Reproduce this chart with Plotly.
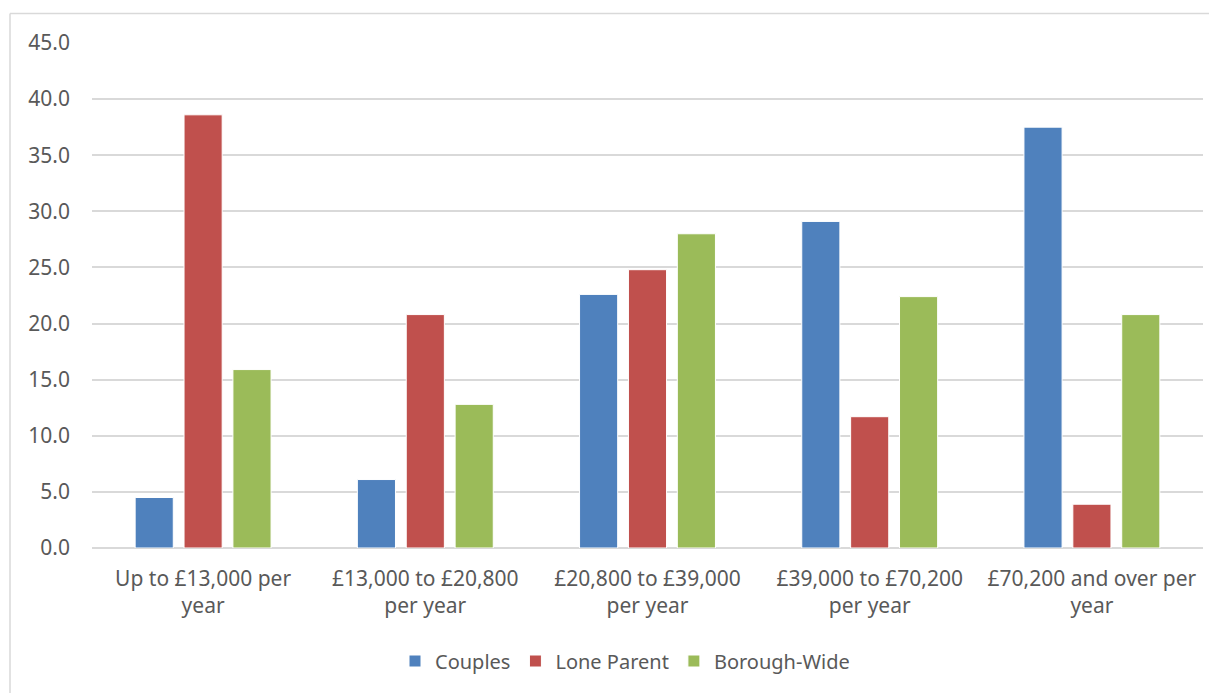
import plotly.graph_objects as go

categories = [
    "Up to £13,000 per<br>year",
    "£13,000 to £20,800<br>per year",
    "£20,800 to £39,000<br>per year",
    "£39,000 to £70,200<br>per year",
    "£70,200 and over per<br>year",
]
couples = [4.5, 6.1, 22.6, 29.1, 37.5]
lone_parent = [38.6, 20.8, 24.8, 11.7, 3.9]
borough_wide = [15.9, 12.8, 28.0, 22.4, 20.8]
y_ticks = [0, 5, 10, 15, 20, 25, 30, 35, 40, 45]

series = [
    ("Couples", couples, "#4F81BD"),
    ("Lone Parent", lone_parent, "#C0504D"),
    ("Borough-Wide", borough_wide, "#9BBB59"),
]

OFF = 8  # page body margin
W, H = 1217 - OFF, 693 - OFF
L, T = 92 - OFF, 43 - OFF
PR, PB = 1203 - OFF, 548 - OFF
R, B = W - PR, H - PB
pw, ph = PR - L, PB - T

fig = go.Figure()
for name, vals, col in series:
    fig.add_trace(go.Bar(
        x=categories, y=vals, name=name,
        marker=dict(color=col, line=dict(color="white", width=1)),
    ))

font = dict(family="Noto Sans", size=20, color="#595959")

fig.update_layout(
    width=W, height=H,
    margin=dict(l=L, r=R, t=T, b=B, autoexpand=False),
    paper_bgcolor="white", plot_bgcolor="white",
    barmode="group", bargap=0.34, bargroupgap=0.22,
    font=font,
    showlegend=True,
    legend=dict(orientation="h", x=(625 - OFF - L) / pw, xanchor="center",
                y=(PB - (661 - OFF)) / ph, yanchor="middle",
                font=font, itemwidth=30, traceorder="normal"),
    xaxis=dict(showgrid=False, showline=False, ticks="",
               tickfont=dict(family="Noto Sans", size=21, color="#595959"),
               ticklabelstandoff=16),
    yaxis=dict(range=[0, 45], tickvals=y_ticks, tickformat=".1f",
               showgrid=True, gridcolor="#D9D9D9", gridwidth=1.5,
               zeroline=True, zerolinecolor="#D9D9D9", zerolinewidth=1.5,
               showline=False, ticks="",
               tickfont=dict(family="Noto Sans", size=21, color="#595959"),
               ticklabelstandoff=21),
)

# chart-area border (top and left visible edges)
top_y = 1 + (T - (13.5 - OFF)) / ph
left_x = ((10 - OFF) - L) / pw
fig.add_shape(type="line", xref="paper", yref="paper",
              x0=left_x, x1=(W - L) / pw, y0=top_y, y1=top_y,
              line=dict(color="#D9D9D9", width=1.5))
fig.add_shape(type="line", xref="paper", yref="paper",
              x0=left_x, x1=left_x, y0=top_y, y1=-(H - PB) / ph,
              line=dict(color="#D9D9D9", width=1.5))

fig.write_html("out.html")
